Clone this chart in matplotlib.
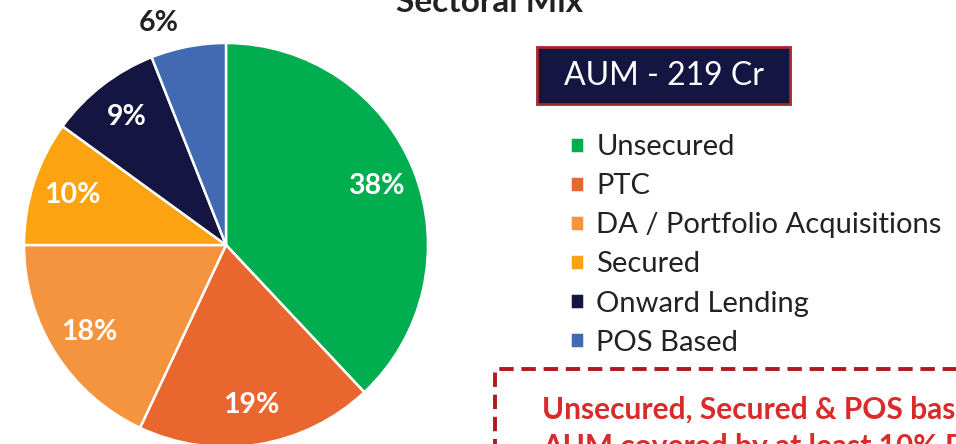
import numpy as np
import matplotlib
matplotlib.use("Agg")
import matplotlib.pyplot as plt
from matplotlib.patches import Rectangle

plt.rcParams["font.family"] = ["Lato", "DejaVu Sans"]

# sector shares of AUM (%)
sectors = ["Unsecured", "PTC", "DA / Portfolio Acquisitions", "Secured", "Onward Lending", "POS Based"]
shares = [38, 19, 18, 10, 9, 6]
colors = ["#00AE4F", "#E9672F", "#F4943F", "#FDA311", "#141540", "#426AB2"]
note_lines = ["Unsecured, Secured & POS based", "AUM covered by at least 10% FLDG"]

W, H = 956, 444
fig = plt.figure(figsize=(W / 100, H / 100), dpi=100)
ax = fig.add_axes([0, 0, 1, 1])


def py(y):
    # pixel row measured from the top -> data y
    return H - y


cx, cy, r = 226, py(245), 202
wedges, _, pct_texts = ax.pie(
    shares,
    colors=colors,
    startangle=90,
    counterclock=False,
    center=(cx, cy),
    radius=r,
    autopct=lambda p: f"{p:.0f}%",
    pctdistance=0.8,
    wedgeprops=dict(edgecolor="white", linewidth=1.8),
    textprops=dict(color="white", fontsize=20.5, fontweight="bold"),
)

# the small POS slice gets its label outside the pie, in dark text
w = wedges[-1]
ang = np.deg2rad((w.theta1 + w.theta2) / 2 + 6)
pct_texts[-1].set_position((cx + 1.15 * r * np.cos(ang), cy + 1.15 * r * np.sin(ang)))
pct_texts[-1].set_color("#222222")

ax.set_xlim(0, W)
ax.set_ylim(0, H)
ax.set_aspect("equal")
ax.axis("off")

ax.text(490, py(12), "Sectoral Mix", ha="center", va="baseline",
        fontsize=24, fontweight="bold", color="#222222")

# AUM badge
ax.add_patch(Rectangle((537, py(104)), 253, 57, facecolor="#141540",
                       edgecolor="#A0282A", linewidth=2))
ax.text(664, py(76), "AUM - 219 Cr", ha="center", va="center",
        fontsize=23, color="white")

fig.legend(
    wedges, sectors,
    loc="upper left",
    bbox_to_anchor=(570 / W, 1 - 134 / H),
    frameon=False,
    fontsize=21,
    handlelength=0.48,
    handleheight=0.48,
    handletextpad=0.42,
    labelspacing=0.45,
    borderpad=0,
    borderaxespad=0,
    labelcolor="#222222",
)

# dashed note box
ax.add_patch(Rectangle((495, py(600)), 600, 231, fill=False, edgecolor="#B0191E",
                       linewidth=2.8, linestyle=(0, (3.7, 2)), clip_on=True))
for i, line in enumerate(note_lines):
    ax.text(542, py(419 + 37 * i), line, ha="left", va="baseline",
            fontsize=21.5, fontweight="bold", color="#D92B2B")

fig.savefig("out.png", dpi=100)
